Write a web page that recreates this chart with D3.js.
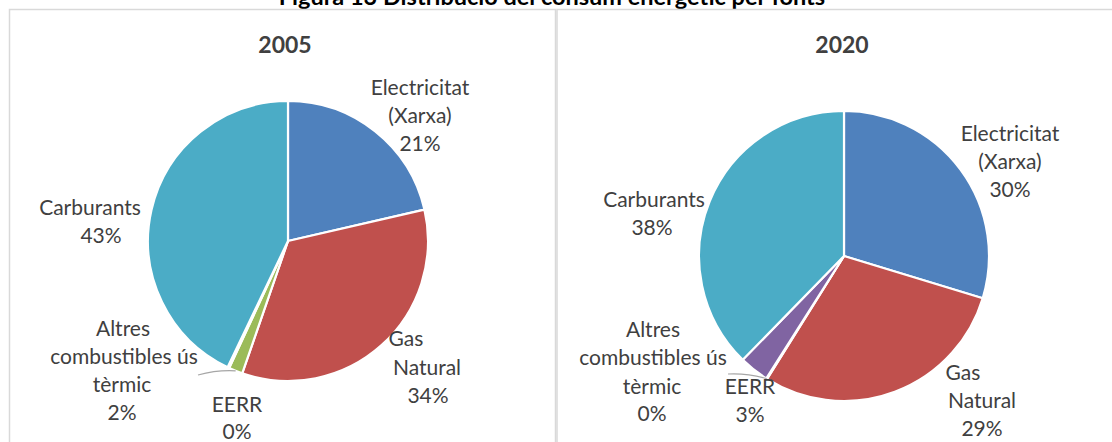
<!DOCTYPE html>
<html><head><meta charset="utf-8">
<script src="https://cdn.jsdelivr.net/npm/d3@7"></script>
<style>body{margin:0;background:#fff}svg{display:block}</style>
</head><body>
<svg id="c" width="1112" height="442"></svg>
<script>
const chartTitle = "Figura 13 Distribució del consum energètic per fonts";
const years = ["2005", "2020"];
const categories = ["Electricitat (Xarxa)", "Gas Natural", "Altres combustibles ús tèrmic", "EERR", "Carburants"];
const values2005 = [21.4, 33.9, 1.6, 0.2, 42.9];
const values2020 = [29.7, 29.2, 0.1, 3.3, 37.7];
const colors = ["#4F81BD", "#C0504D", "#9BBB59", "#8064A2", "#4BACC6"];

const svg = d3.select("#c");
const font = "Lato, 'Open Sans', sans-serif";
const textColor = "#404040";
const labelSize = 21;

svg.append("text").attr("x", 552).attr("y", 5).attr("text-anchor", "middle")
  .attr("font-family", font).attr("font-weight", "bold").attr("font-size", 23.5)
  .attr("fill", "#000").text(chartTitle);

// frames
svg.append("rect").attr("x", 9.5).attr("y", 9.5).attr("width", 546).attr("height", 450)
  .attr("fill", "none").attr("stroke", "#d9d9d9").attr("stroke-width", 1.5);
svg.append("rect").attr("x", 557).attr("y", 9.5).attr("width", 600).attr("height", 450)
  .attr("fill", "none").attr("stroke", "#d9d9d9").attr("stroke-width", 1.5);

// layout for each panel (positions only)
const panels = [
  { values: values2005, cx: 288, cy: 241, r: 140, titleX: 285,
    labels: [
      { lines: [["Electricitat", 420, 95], ["(Xarxa)", 420, 123], ["%", 420, 151]] },
      { lines: [["Gas", 406, 346], ["Natural", 427, 375], ["%", 428, 403]] },
      { lines: [["Altres", 123, 336], ["combustibles ús", 124, 364], ["tèrmic", 122, 392], ["%", 122, 420]], leader: [198, 375] },
      { lines: [["EERR", 237, 412], ["%", 237, 439]] },
      { lines: [["Carburants", 90, 215], ["%", 101, 243]] }
    ] },
  { values: values2020, cx: 844, cy: 256, r: 145, titleX: 842,
    labels: [
      { lines: [["Electricitat", 1010, 141], ["(Xarxa)", 1010, 169], ["%", 1010, 197]] },
      { lines: [["Gas", 963, 380], ["Natural", 982, 408], ["%", 982, 436]] },
      { lines: [["Altres", 653, 337], ["combustibles ús", 653, 365], ["tèrmic", 652, 394], ["%", 652, 421]], leader: [728, 374] },
      { lines: [["EERR", 750, 394], ["%", 750, 422]] },
      { lines: [["Carburants", 654, 207], ["%", 652, 235]] }
    ] }
];

const pie = d3.pie().sort(null).value(d => d);

panels.forEach((p, pi) => {
  const g = svg.append("g");
  g.append("text").attr("x", p.titleX).attr("y", 53).attr("text-anchor", "middle")
    .attr("font-family", font).attr("font-weight", "bold").attr("font-size", 23)
    .attr("fill", textColor).text(years[pi]);

  const arcs = pie(p.values);
  const arc = d3.arc().innerRadius(0).outerRadius(p.r);
  const pg = g.append("g").attr("transform", `translate(${p.cx},${p.cy})`);
  pg.selectAll("path").data(arcs).join("path")
    .attr("d", arc).attr("fill", (d, i) => colors[i])
    .attr("stroke", "#fff").attr("stroke-width", 2.2).attr("stroke-linejoin", "round");

  const total = d3.sum(p.values);
  p.labels.forEach((lab, i) => {
    const pct = Math.round(p.values[i] / total * 100) + "%";
    lab.lines.forEach(([t, x, y]) => {
      g.append("text").attr("x", x).attr("y", y).attr("text-anchor", "middle")
        .attr("font-family", font).attr("font-size", labelSize).attr("fill", textColor)
        .text(t === "%" ? pct : t);
    });
    if (lab.leader) {
      const a = (arcs[i].startAngle + arcs[i].endAngle) / 2;
      const ex = p.cx + Math.sin(a) * p.r, ey = p.cy - Math.cos(a) * p.r;
      g.append("path")
        .attr("d", `M${lab.leader[0]},${lab.leader[1]} Q${(lab.leader[0] + ex) / 2},${Math.min(lab.leader[1], ey) - 1} ${ex},${ey}`)
        .attr("fill", "none").attr("stroke", "#a6a6a6").attr("stroke-width", 1.2);
    }
  });
});
</script>
</body></html>
